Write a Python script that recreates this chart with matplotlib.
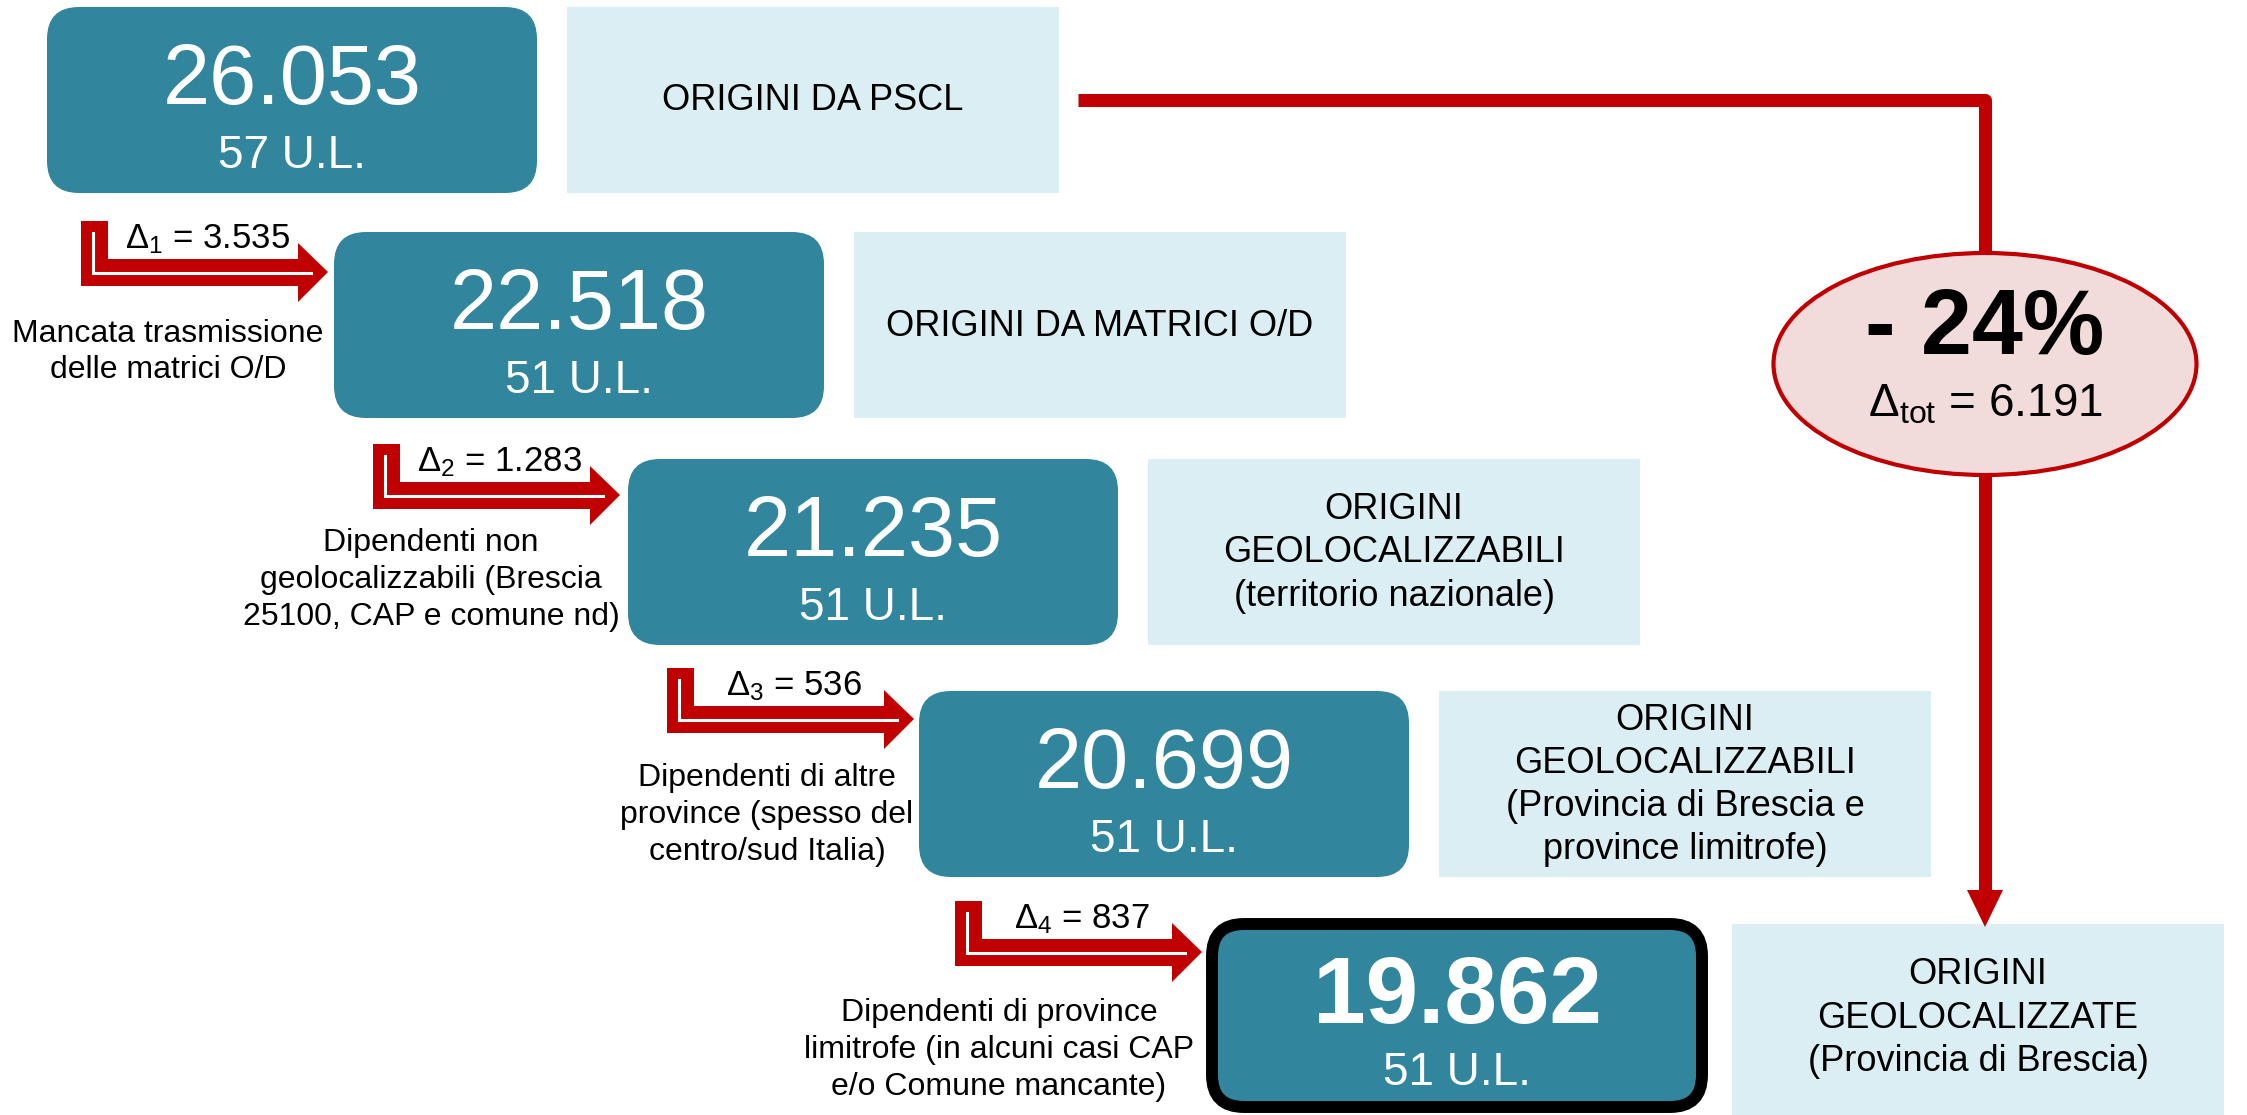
import matplotlib
matplotlib.use("Agg")
import matplotlib.pyplot as plt
from matplotlib.patches import FancyBboxPatch, Rectangle, Polygon, Ellipse

plt.rcParams['font.family'] = ['Liberation Sans', 'DejaVu Sans']
plt.rcParams['mathtext.default'] = 'regular'
plt.rcParams['mathtext.fontset'] = 'custom'
plt.rcParams['mathtext.rm'] = 'Liberation Sans'

# ------------------ DATA ------------------
totals = ["26.053", "22.518", "21.235", "20.699", "19.862"]
units = ["57 U.L.", "51 U.L.", "51 U.L.", "51 U.L.", "51 U.L."]
stages = [
    "ORIGINI DA PSCL",
    "ORIGINI DA MATRICI O/D",
    "ORIGINI\nGEOLOCALIZZABILI\n(territorio nazionale)",
    "ORIGINI\nGEOLOCALIZZABILI\n(Provincia di Brescia e\nprovince limitrofe)",
    "ORIGINI\nGEOLOCALIZZATE\n(Provincia di Brescia)",
]
deltas = ["3.535", "1.283", "536", "837"]
reasons = [
    "Mancata trasmissione\ndelle matrici O/D",
    "Dipendenti non\ngeolocalizzabili (Brescia\n25100, CAP e comune nd)",
    "Dipendenti di altre\nprovince (spesso del\ncentro/sud Italia)",
    "Dipendenti di province\nlimitrofe (in alcuni casi CAP\ne/o Comune mancante)",
]
drop_pct = "- 24%"
drop_tot = "6.191"

# ------------------ LAYOUT (pixels) ------------------
W, H = 2247, 1115
box_x = [47, 334, 628, 919, 1212]
box_y = [7, 232, 459, 691, 924]
box_w, box_h = 490, 186
lab_dx, lab_w = 520, 492
tips = [(328, 272), (620, 495), (914, 719), (1202, 952)]
note_xy = [(168, 352), (431, 580), (767, 815), (999, 1050)]

TEAL = "#31859C"
LIGHT = "#DAEEF3"
RED = "#C00000"
PINK = "#F2DCDB"

fig = plt.figure(figsize=(W / 100, H / 100), dpi=100)
ax = fig.add_axes([0, 0, 1, 1])
ax.set_xlim(0, W)
ax.set_ylim(H, 0)
ax.axis("off")


def bent_arrow(tx, ty):
    xl, yt = tx - 247, ty - 51
    xb = tx - 30
    pts = [(xl, yt), (xl + 27, yt), (xl + 27, ty - 13), (xb, ty - 13), (xb, ty - 29),
           (tx, ty), (xb, ty + 30), (xb, ty + 14), (xl, ty + 14)]
    ax.add_patch(Polygon(pts, closed=True, fc=RED, ec="none", zorder=3))
    ax.plot([xl + 12, xl + 12, tx - 17], [ty - 39, ty + 1, ty + 1], color="white",
            lw=2.2, solid_joinstyle="miter", zorder=4)


# ---- boxes ----
for i in range(5):
    x0, y0 = box_x[i], box_y[i]
    last = i == 4
    ax.add_patch(FancyBboxPatch((x0, y0), box_w, box_h if not last else 183,
                                boxstyle="round,pad=0,rounding_size=32",
                                fc=TEAL, ec="black" if last else "none",
                                lw=8.6 if last else 0, zorder=2))
    ax.text(x0 + box_w / 2, y0 + 75, totals[i], color="white", ha="center", va="center",
            fontsize=68 if last else 61, fontweight="bold" if last else "normal", zorder=5)
    ax.text(x0 + box_w / 2, y0 + 149, units[i], color="white", ha="center", va="center",
            fontsize=33, zorder=5)
    lx = x0 + lab_dx
    lh = box_h if not last else H - y0 + 5
    ax.add_patch(Rectangle((lx, y0), lab_w, lh, fc=LIGHT, ec="none", zorder=1))
    ax.text(lx + lab_w / 2, y0 + box_h / 2 + 1, stages[i], ha="center", va="center",
            fontsize=26, linespacing=1.3, zorder=5)

# ---- step arrows ----
for i in range(4):
    tx, ty = tips[i]
    bent_arrow(tx, ty)
    ax.text(tx - 120, ty - 33, "Δ$_{%d}$ = %s" % (i + 1, deltas[i]), ha="center",
            va="center", fontsize=25, zorder=5)
    nx, ny = note_xy[i]
    ax.text(nx, ny, reasons[i], ha="center", va="center", fontsize=23,
            linespacing=1.3, zorder=5)

# ---- total drop ----
ex, ey, ew, eh = 1985, 364, 423, 222
ax.plot([1078, ex, ex], [99.5, 99.5, ey], color=RED, lw=9.4,
        solid_joinstyle="round", solid_capstyle="butt", zorder=1)
ax.plot([ex, ex], [ey, 892], color=RED, lw=9.4, solid_capstyle="butt", zorder=1)
ax.add_patch(Polygon([(ex - 18, 890), (ex + 18, 890), (ex, 927)], closed=True,
                     fc=RED, ec="none", zorder=2))
ax.add_patch(Ellipse((ex, ey), ew, eh, fc=PINK, ec=RED, lw=3, zorder=3))
ax.text(ex, ey - 34, drop_pct, ha="center", va="center", fontsize=66,
        fontweight="bold", zorder=5)
ax.text(ex, ey + 52, "Δ$_{tot}$ = " + drop_tot, ha="center", va="baseline",
        fontsize=33, zorder=5)

fig.savefig("out.png", dpi=100)
